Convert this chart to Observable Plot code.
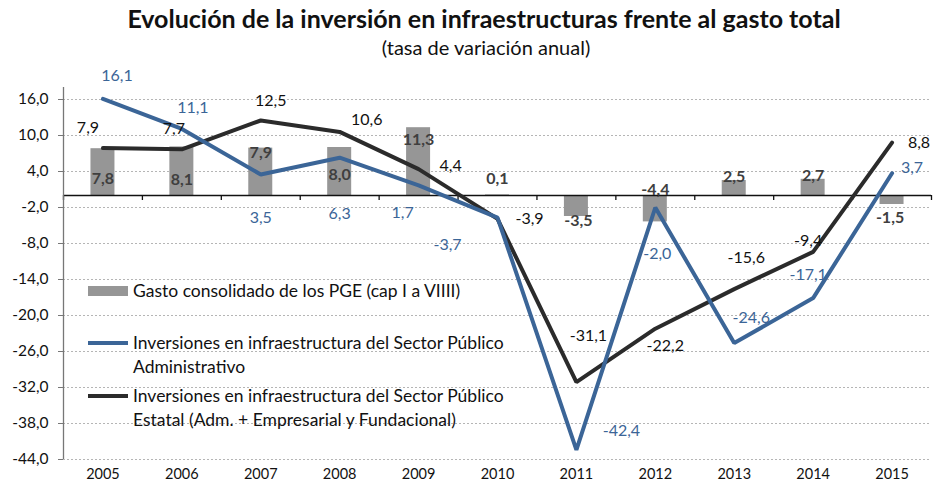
<!DOCTYPE html>
<html>
<head>
<meta charset="utf-8">
<script src="https://cdn.jsdelivr.net/npm/d3@7"></script>
<script src="https://cdn.jsdelivr.net/npm/@observablehq/plot@0.6"></script>
<style>
  html, body { margin: 0; padding: 0; background: #fff; }
  body { width: 933px; height: 491px; position: relative; overflow: hidden; font-family: Lato, "Open Sans", sans-serif; }
  #head { height: 60px; position: relative; }
  #title { position: absolute; left: 0; width: 968px; top: 3px; text-align: center; font-weight: bold; font-size: 25px; line-height: 30px; color: #111; }
  #subtitle { position: absolute; left: 0; width: 972px; top: 35px; text-align: center; font-size: 20px; line-height: 24px; color: #111; }
  .leg { position: absolute; font-size: 17.5px; color: #111; line-height: 24px; }
  .sw { position: absolute; }
</style>
</head>
<body>
<div id="head">
  <div id="title">Evolución de la inversión en infraestructuras frente al gasto total</div>
  <div id="subtitle">(tasa de variación anual)</div>
</div>
<div id="chart"></div>
<div class="sw" style="left:88px;top:286px;width:40px;height:10px;background:#969696"></div>
<div class="leg" style="left:133px;top:279px">Gasto consolidado de los PGE (cap I a VIIII)</div>
<div class="sw" style="left:88px;top:341px;width:40px;height:4px;background:#3b6597"></div>
<div class="leg" style="left:133px;top:331px">Inversiones en infraestructura del Sector Público<br>Administrativo</div>
<div class="sw" style="left:88px;top:394px;width:40px;height:4px;background:#2b2b2b"></div>
<div class="leg" style="left:133px;top:384px">Inversiones en infraestructura del Sector Público<br>Estatal (Adm. + Empresarial y Fundacional)</div>
<script>
// ---- data ----
const years = [2005, 2006, 2007, 2008, 2009, 2010, 2011, 2012, 2013, 2014, 2015];
const gastoPGE = [7.8, 8.1, 7.9, 8.0, 11.3, 0.1, -3.5, -4.4, 2.5, 2.7, -1.5];
const invAdministrativo = [16.1, 11.1, 3.5, 6.3, 1.7, -3.7, -42.4, -2.0, -24.6, -17.1, 3.7];
const invEstatal = [7.9, 7.7, 12.5, 10.6, 4.4, -3.9, -31.1, -22.2, -15.6, -9.4, 8.8];
const yTicks = [16, 10, 4, -2, -8, -14, -20, -26, -32, -38, -44];

// ---- label placement (pixel offsets) ----
const barLabelDx = [0, 0, 0, 0, 0, 0, 2, 0, 0, 0, -2];
const barLabelDy = [30, 33, 5, 27, 12, -16, 4, -32, -4, -3, 13];
const blueLabelDx = [14, 11, 0, 0, -16, -50, 45, 2, 17, -5, 20];
const blueLabelDy = [-23, -21, 43, 56, 28, 27, -19, 46, -25, -23, -5];
const blackLabelDx = [-15, -8, 10, 27, 32, 32, 12, 10, 12, -5, 27];
const blackLabelDy = [-20, -20, -20, -12, -3, 0, -46, 17, -31, -11, 0];

const BLUE = "#3b6597", BLACK = "#2b2b2b", BAR = "#969696";
const fmt = v => v.toFixed(1).replace(".", ",");

const rows = years.map((y, i) => ({year: y, gasto: gastoPGE[i], adm: invAdministrativo[i], est: invEstatal[i], i}));
const bounds = [years[0] - 0.5, ...years.map(y => y + 0.5)];
const halfBar = 0.152;

const labelMarks = [];
rows.forEach(d => {
  labelMarks.push(Plot.text([d], {x: "year", y: "gasto", text: r => fmt(r.gasto), dx: barLabelDx[d.i], dy: barLabelDy[d.i], fill: "#3f3f3f", fontWeight: "bold", fontSize: 16}));
  labelMarks.push(Plot.text([d], {x: "year", y: "adm", text: r => fmt(r.adm), dx: blueLabelDx[d.i], dy: blueLabelDy[d.i], fill: BLUE, fontSize: 16}));
  labelMarks.push(Plot.text([d], {x: "year", y: "est", text: r => fmt(r.est), dx: blackLabelDx[d.i], dy: blackLabelDy[d.i], fill: "#111", fontSize: 16}));
});

const chart = Plot.plot({
  width: 933,
  height: 431,
  marginTop: 27,
  marginBottom: 32,
  marginLeft: 63,
  marginRight: 2,
  style: {fontFamily: "Lato, 'Open Sans', sans-serif", fontSize: "14px", color: "#111", background: "#fff"},
  x: {type: "linear", domain: [years[0] - 0.5, years[years.length - 1] + 0.5]},
  y: {domain: [-44, 18]},
  marks: [
    Plot.gridY(yTicks, {stroke: "#b5b5b5", strokeOpacity: 1, strokeDasharray: "2,2"}),
    Plot.rectY(rows, {x1: d => d.year - halfBar, x2: d => d.year + halfBar, y1: 0, y2: "gasto", fill: BAR}),
    Plot.ruleY([0], {stroke: "#111", strokeWidth: 1.3}),
    Plot.ruleX(bounds, {x: d => d, y1: 0, y2: 0, insetBottom: -5, stroke: "#111", strokeWidth: 1.3}),
    Plot.ruleX([years[0] - 0.5], {y1: -44, y2: 18, stroke: "#777", strokeWidth: 1.3}),
    Plot.axisY(yTicks, {tickFormat: fmt, tickSize: 5, tickPadding: 10, stroke: "#777", fontSize: 15.5, fill: "#111", label: null}),
    Plot.axisX(years, {tickFormat: d => String(d), tickSize: 0, tickPadding: 9, fontSize: 14.5, fill: "#111", label: null}),
    Plot.line(rows, {x: "year", y: "est", stroke: BLACK, strokeWidth: 4, strokeLinejoin: "miter"}),
    Plot.line(rows, {x: "year", y: "adm", stroke: BLUE, strokeWidth: 4, strokeLinejoin: "miter"}),
    ...labelMarks
  ]
});
document.getElementById("chart").appendChild(chart);
</script>
</body>
</html>
